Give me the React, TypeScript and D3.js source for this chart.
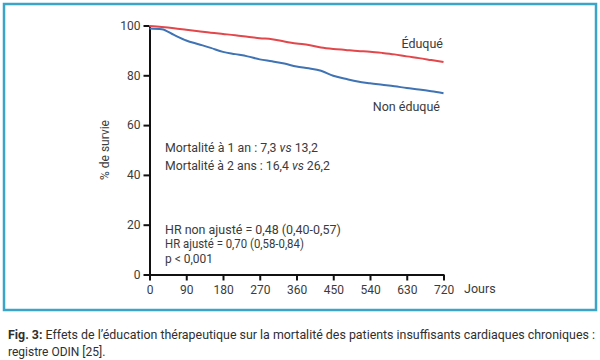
import * as d3 from 'd3';
import React, {useEffect, useRef} from 'react';

const days = [0, 30, 60, 90, 120, 150, 180, 210, 240, 270, 300, 330, 360, 390, 420, 450, 480, 510, 540, 570, 600, 630, 660, 690, 720];
const eduque = [99.8, 99.4, 98.9, 98.3, 97.7, 97.1, 96.6, 96.1, 95.5, 94.9, 94.5, 93.6, 92.8, 92.2, 91.2, 90.6, 90.2, 89.8, 89.5, 89.0, 88.4, 87.6, 86.9, 86.1, 85.3];
const nonEduque = [98.8, 98.5, 96.2, 94.0, 92.5, 91.0, 89.4, 88.5, 87.6, 86.4, 85.6, 84.7, 83.5, 82.8, 81.8, 79.8, 78.6, 77.5, 76.8, 76.2, 75.6, 74.9, 74.3, 73.6, 72.8];
const xTicks = [0, 90, 180, 270, 360, 450, 540, 630, 720];
const yTicks = [0, 20, 40, 60, 80, 100];

const FONT = 'Roboto, "DejaVu Sans", sans-serif';
const TXT = '#3b3b3b';

export default function App() {
  const ref = useRef<SVGSVGElement>(null);

  useEffect(() => {
    const svg = d3.select(ref.current);
    svg.selectAll('*').remove();

    const x = d3.scaleLinear().domain([0, 720]).range([149.5, 443.5]);
    const y = d3.scaleLinear().domain([0, 100]).range([274.5, 25.5]);

    // cadre
    svg.append('rect')
      .attr('x', 4).attr('y', 4).attr('width', 592).attr('height', 306)
      .attr('fill', '#fff').attr('stroke', '#3aa5c6').attr('stroke-width', 2.5);

    const yAxis = svg.append('g')
      .attr('transform', `translate(${x(0)},0)`)
      .call(d3.axisLeft(y).tickValues(yTicks).tickSize(6).tickSizeOuter(0).tickPadding(3));
    const xAxis = svg.append('g')
      .attr('transform', `translate(0,${y(0)})`)
      .call(d3.axisBottom(x).tickValues(xTicks).tickSize(6).tickSizeOuter(0).tickPadding(5));

    [yAxis, xAxis].forEach(a => {
      a.select('.domain').attr('stroke', '#111').attr('stroke-width', 2);
      a.selectAll('.tick line').attr('stroke', '#111').attr('stroke-width', 2);
      a.selectAll('.tick text').attr('fill', TXT).style('font-family', FONT).style('font-size', '12px');
    });

    const line = d3.line<number>()
      .x((_, i) => x(days[i]))
      .y(d => y(d))
      .curve(d3.curveMonotoneX);

    svg.append('path').datum(eduque)
      .attr('fill', 'none').attr('stroke', '#e2474c').attr('stroke-width', 2)
      .attr('d', line);
    svg.append('path').datum(nonEduque)
      .attr('fill', 'none').attr('stroke', '#3f73b3').attr('stroke-width', 2)
      .attr('d', line);

    const txt = (tx: number, ty: number, s: string, anchor = 'start') =>
      svg.append('text').attr('x', tx).attr('y', ty).attr('text-anchor', anchor)
        .attr('fill', TXT).style('font-family', FONT).style('font-size', '12.5px').text(s);

    // texte ajusté à une largeur donnée (police du modèle plus étroite)
    const fitted = (tx: number, ty: number, parts: [string, boolean][], width: number) => {
      const t = svg.append('text').attr('x', 0).attr('y', 0)
        .attr('fill', TXT).style('font-family', FONT).style('font-size', '12.5px');
      parts.forEach(([s, it]) => {
        const sp = t.append('tspan').text(s);
        if (it) sp.style('font-style', 'italic');
      });
      const w = (t.node() as SVGTextElement).getComputedTextLength() || width;
      t.attr('transform', `translate(${tx},${ty}) scale(${width / w},1)`);
      return t;
    };

    txt(443, 48, 'Éduqué', 'end');
    txt(440, 111, 'Non éduqué', 'end');
    txt(464, 293, 'Jours');

    fitted(165, 152, [['Mortalité à 1 an : 7,3 ', false], ['vs', true], [' 13,2', false]], 153);
    fitted(165, 170, [['Mortalité à 2 ans : 16,4 ', false], ['vs', true], [' 26,2', false]], 165);
    fitted(165, 233.5, [['HR non ajusté = 0,48 (0,40-0,57)', false]], 176);
    fitted(165, 248, [['HR ajusté = 0,70 (0,58-0,84)', false]], 139);
    fitted(165, 262.5, [['p < 0,001', false]], 48);

    svg.append('text')
      .attr('transform', `translate(109,${y(50)}) rotate(-90)`)
      .attr('text-anchor', 'middle')
      .attr('fill', TXT).style('font-family', FONT).style('font-size', '12px')
      .text('% de survie');

    const cap = svg.append('text').attr('x', 0).attr('y', 0)
      .attr('fill', '#2f2f2f').style('font-family', FONT).style('font-size', '12px');
    cap.append('tspan').style('font-weight', 'bold').text('Fig. 3:');
    cap.append('tspan').text(' Effets de l\u2019éducation thérapeutique sur la mortalité des patients insuffisants cardiaques chroniques :');
    const cw = (cap.node() as SVGTextElement).getComputedTextLength() || 588;
    cap.attr('transform', `translate(8,339) scale(${588 / cw},1)`);
    svg.append('text').attr('x', 8).attr('y', 356)
      .attr('fill', '#2f2f2f').style('font-family', FONT).style('font-size', '12px')
      .text('registre ODIN [25].');
  }, []);

  return (
    <svg ref={ref} width={600} height={360}
      style={{position: 'absolute', left: 0, top: 0, background: '#fff'}} />
  );
}
